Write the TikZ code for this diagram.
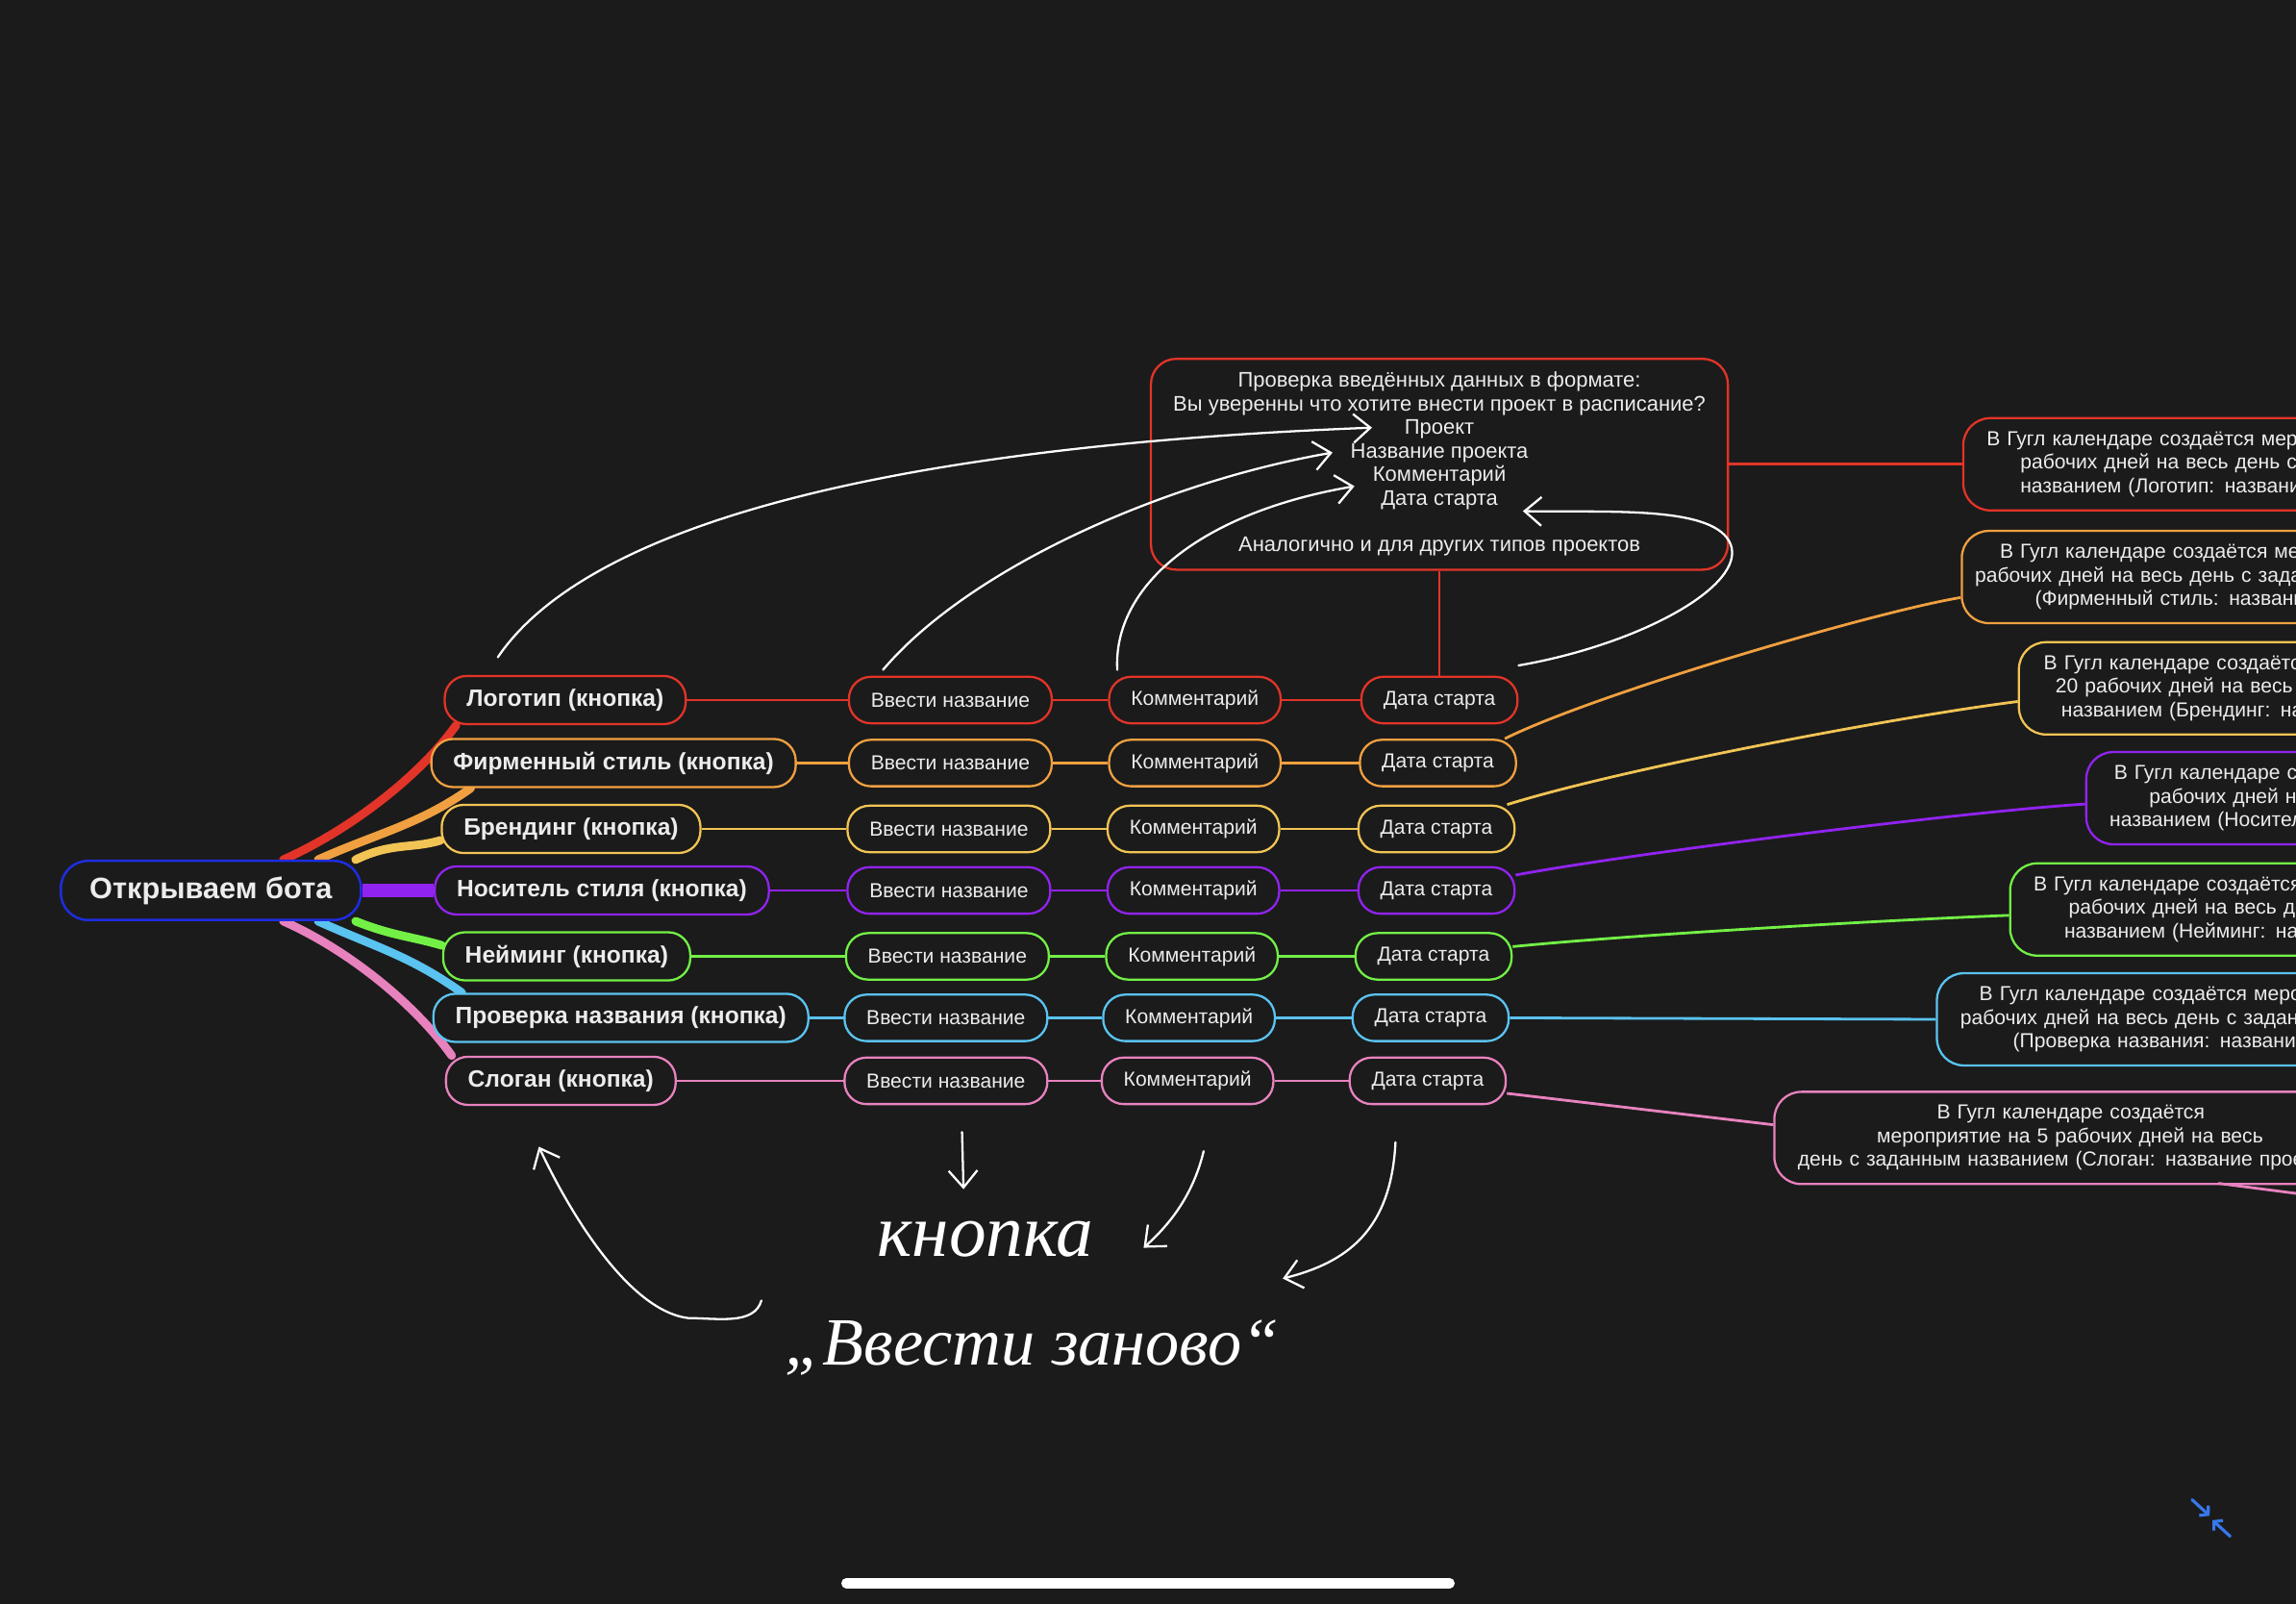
\documentclass[tikz,border=0pt]{standalone}
\usepackage{fontspec}
\setmainfont{Liberation Sans}
\newfontfamily\handfont{Liberation Serif}
\usepackage{tikz}
\usetikzlibrary{arrows.meta, backgrounds}
\usepackage{xcolor}
\definecolor{bg}{RGB}{27,27,27}
\definecolor{txt}{RGB}{236,236,236}
\definecolor{cRoot}{RGB}{30,45,225}
\definecolor{cRed}{RGB}{226,52,40}
\definecolor{cOrange}{RGB}{240,160,64}
\definecolor{cYellow}{RGB}{242,196,84}
\definecolor{cPurple}{RGB}{145,35,240}
\definecolor{cGreen}{RGB}{115,240,70}
\definecolor{cBlue}{RGB}{90,195,240}
\definecolor{cPink}{RGB}{232,130,190}
\definecolor{cIcon}{RGB}{55,120,235}
\newlength{\pxu}
\setlength{\pxu}{0.03046cm}

\tikzset{
  rootbox/.style={draw=cRoot, line width=1.4pt, rounded corners=16pt, fill=bg, text=txt,
    font=\bfseries\fontsize{17.5}{20}\selectfont, minimum height=35pt, inner xsep=17pt},
  btn/.style={draw=#1, line width=1.3pt, rounded corners=13pt, fill=bg, text=txt,
    font=\bfseries\fontsize{14}{16}\selectfont, minimum height=28.5pt, inner xsep=13pt},
  stepbox/.style={draw=#1, line width=1.3pt, rounded corners=13pt, fill=bg, text=txt,
    font=\fontsize{12}{14}\selectfont, minimum height=27.5pt, inner xsep=13pt},
  chkbox/.style={draw=cRed, line width=1.3pt, rounded corners=15pt, fill=bg, text=txt,
    font=\fontsize{12.5}{13.9}\selectfont, align=center,
    minimum width=394\pxu, minimum height=144\pxu},
  rbox/.style={draw=#1, line width=1.3pt, rounded corners=16pt, fill=bg, text=txt,
    font=\fontsize{12}{13.9}\selectfont, anchor=west, align=left,
    text width=560\pxu, inner xsep=0pt, minimum height=63\pxu},
  conn/.style={line width=1.6pt},
  branch/.style={line width=5pt, line cap=round},
  hand/.style={white, line width=1.3pt, line cap=round,
    -{Straight Barb[length=10pt,width=17pt,line width=1.3pt]}},
  handtext/.style={text=white, font=\handfont\itshape\fontsize{#1}{#1}\selectfont},
}

\begin{document}
\begin{tikzpicture}[x=0.03046cm, y=-0.03046cm]
  \begin{pgfonlayer}{background}
    \fill[bg] (0,0) rectangle (1568,1095);
  \end{pgfonlayer}
  \useasboundingbox (0,0) rectangle (1568,1095);
  \clip (0,0) rectangle (1568,1095);

  \node[rootbox] (root) at (144,608) {Открываем бота};

  \foreach \i/\col/\y/\bx/\vx/\kx/\dx/\lab in {
      1/cRed/478/386/649/816/983/Логотип,
      2/cOrange/521/419/649/816/982/Фирменный стиль,
      3/cYellow/566/390/648/815/981/Брендинг,
      4/cPurple/608/411/648/815/981/Носитель стиля,
      5/cGreen/653/387/647/814/979/Нейминг,
      6/cBlue/695/424/646/812/977/Проверка названия,
      7/cPink/738/383/646/811/975/Слоган} {
    \node[btn=\col] (b\i) at (\bx,\y) {\lab{} (кнопка)};
    \node[stepbox=\col] (v\i) at (\vx,\y) {Ввести название};
    \node[stepbox=\col] (k\i) at (\kx,\y) {Комментарий};
    \node[stepbox=\col] (d\i) at (\dx,\y) {Дата старта};
    \draw[\col, conn] (b\i) -- (v\i) (v\i) -- (k\i) (k\i) -- (d\i);
  }

  \begin{pgfonlayer}{background}
    \draw[cRed, branch] (root.23) .. controls +(45,-20) and +(-25,35) .. (b1.193);
    \draw[cOrange, branch] (root.16) .. controls +(40,-18) and +(-35,25) .. (b2.190);
    \draw[cYellow, branch] (root.12) .. controls +(25,-12) and +(-20,6) .. (b3.185);
    \draw[cPurple, line width=8pt] (root.east) -- (b4.west);
    \draw[cGreen, branch] (root.-12) .. controls +(25,10) and +(-20,-6) .. (b5.175);
    \draw[cBlue, branch] (root.-16) .. controls +(40,18) and +(-35,-25) .. (b6.171);
    \draw[cPink, branch] (root.-23) .. controls +(45,20) and +(-25,-35) .. (b7.167);
  \end{pgfonlayer}

  \node[chkbox] (chk) at (983,317) {Проверка введённых данных в формате:\\
    Вы уверенны что хотите внести проект в расписание?\\
    Проект\\ Название проекта\\ Комментарий\\ Дата старта\\[13.9pt]
    Аналогично и для других типов проектов};
  \draw[cRed, conn] (chk) -- (d1);

  \node[rbox=cRed] (r1) at (1340,317) {\hspace*{16\pxu}В Гугл календаре создаётся мероприятие\\
    \hspace*{39\pxu}рабочих дней на весь день с\\
    \hspace*{39\pxu}названием (Логотип: название};
  \node[rbox=cOrange] (r2) at (1339,394) {\hspace*{26\pxu}В Гугл календаре создаётся мероприятие\\
    \hspace*{9\pxu}рабочих дней на весь день с заданным\\
    \hspace*{50\pxu}(Фирменный стиль: название};
  \node[rbox=cYellow] (r3) at (1378,470) {\hspace*{17\pxu}В Гугл календаре создаётся\\
    \hspace*{25\pxu}20 рабочих дней на весь\\
    \hspace*{29\pxu}названием (Брендинг: название};
  \node[rbox=cPurple] (r4) at (1424,545) {\hspace*{19\pxu}В Гугл календаре создаётся\\
    \hspace*{43\pxu}рабочих дней на\\
    \hspace*{16\pxu}названием (Носитель};
  \node[rbox=cGreen] (r5) at (1372,621) {\hspace*{16\pxu}В Гугл календаре создаётся\\
    \hspace*{40\pxu}рабочих дней на весь день\\
    \hspace*{37\pxu}названием (Нейминг: название};
  \node[rbox=cBlue] (r6) at (1322,696) {\hspace*{29\pxu}В Гугл календаре создаётся мероприятие\\
    \hspace*{16\pxu}рабочих дней на весь день с заданным\\
    \hspace*{52\pxu}(Проверка названия: название};
  \node[rbox=cPink] (r7) at (1211,777) {\hspace*{111\pxu}В Гугл календаре создаётся\\
    \hspace*{70\pxu}мероприятие на 5 рабочих дней на весь\\
    \hspace*{16\pxu}день с заданным названием (Слоган: название проекта};

  \draw[cRed, conn] (chk.east) -- (r1.west);
  \draw[cOrange, conn] (d2.20) .. controls +(60,-30) and +(-60,10) .. ([yshift=-14\pxu]r2.west);
  \draw[cYellow, conn] (d3.19) .. controls +(80,-25) and +(-80,10) .. ([yshift=-9\pxu]r3.west);
  \draw[cPurple, conn] (d4.11) .. controls +(80,-15) and +(-80,5) .. ([yshift=-4\pxu]r4.west);
  \draw[cGreen, conn] (d5.7) .. controls +(80,-8) and +(-80,3) .. ([yshift=-4\pxu]r5.west);
  \draw[cBlue, conn] (d6.east) -- (r6.west);
  \draw[cPink, conn] (d7.-9) -- ([yshift=9\pxu]r7.west);
  \coordinate (pinkA) at (1515,808);
  \coordinate (pinkB) at (1600,819);
  \draw[cPink, conn] (pinkA) -- (pinkB);

  \coordinate (tProj) at (937,292);
  \coordinate (tName) at (910,309);
  \coordinate (tComm) at (925,332);
  \coordinate (tDate) at (1040,349);
  \coordinate (loopR) at (1182,372);
  \draw[hand] ([yshift=12\pxu]b1.north west) ++(37,0) .. controls (400,360) and (600,305) .. (tProj);
  \draw[hand] ([yshift=4\pxu]v1.north) ++(-46,0) .. controls (660,390) and (790,330) .. (tName);
  \draw[hand] ([yshift=4\pxu]k1.north) ++(-53,0) .. controls (760,400) and (820,350) .. (tComm);
  \draw[hand] ([yshift=7\pxu]d1.north east) .. controls (1120,440) and (1192,400) .. (loopR)
    .. controls (1172,345) and (1100,350) .. (tDate);

  \coordinate (hA) at (520,888);
  \coordinate (hB) at (470,900);
  \coordinate (tSlogan) at (368,783);
  \coordinate (hC) at (657,773);
  \coordinate (tC) at (658,812);
  \coordinate (hD) at (822,786);
  \coordinate (tD) at (781,852);
  \coordinate (hE) at (953,780);
  \coordinate (tE) at (876,873);
  \draw[hand] (hA) .. controls (515,905) and (490,900) .. (hB)
    .. controls (430,895) and (390,830) .. (tSlogan);
  \draw[hand] (hC) -- (tC);
  \draw[hand] (hD) .. controls (815,815) and (800,835) .. (tD);
  \draw[hand] (hE) .. controls (950,840) and (920,862) .. (tE);

  \node[handtext=44] (hwBtn) at (673,846) {кнопка};
  \node[handtext=40] (hwAgain) at (705,920) {„Ввести заново“};

  \coordinate (barL) at (578,1081);
  \coordinate (barR) at (990,1081);
  \draw[white, line width=6pt, line cap=round] (barL) -- (barR);

  \coordinate (icA) at (1497,1024);
  \coordinate (icB) at (1509,1035);
  \coordinate (icC) at (1523,1049);
  \coordinate (icD) at (1511,1038);
  \draw[cIcon, line width=1.8pt, line cap=round, -{Straight Barb[length=3.5pt,width=8pt,line width=1.8pt]}] (icA) -- (icB);
  \draw[cIcon, line width=1.8pt, line cap=round, -{Straight Barb[length=3.5pt,width=8pt,line width=1.8pt]}] (icC) -- (icD);
\end{tikzpicture}
\end{document}
